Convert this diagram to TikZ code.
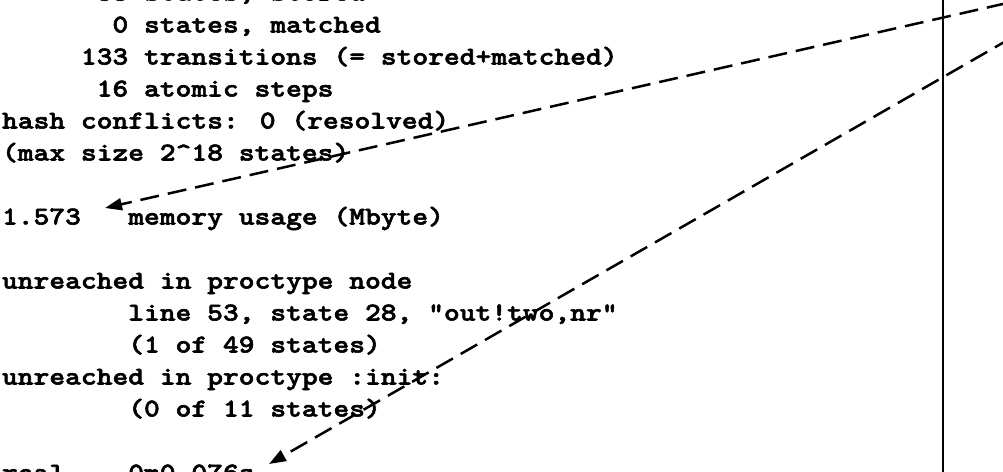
\documentclass[tikz,border=0pt]{standalone}
\usepackage{fontspec}
% typewriter face with slab serifs, widened to a 0.6em cell and thickened
\newfontfamily\courfont{lmmonolt10-bold.otf}[FakeStretch=1.17,FakeBold=2.2]
\usetikzlibrary{arrows.meta}

% character cell width of the mono font, and line pitch
\newcommand\cw{15.78}
\newcommand\lp{32}
% one line of program output: name, column, row, text
\newcommand\codeline[4]{\node[code] (#1) at ({2+#2*\cw},{0.5+#3*\lp}) {#4};}

\begin{document}
\begin{tikzpicture}[x=1pt,y=-1pt,
  code/.style={anchor=base west,inner sep=0pt,outer sep=0pt,
    font=\fontsize{25.7pt}{32pt}\selectfont\courfont},
  pointer/.style={line width=2.5pt,dash pattern=on 19pt off 9pt,
    -{Triangle[length=17pt,width=12pt]}},
  divider/.style={line width=2.5pt}]
\useasboundingbox (0,0) rectangle (1003,471);
\clip (0,0) rectangle (1003,471);

\codeline{stored}{6}{0}{33 states, stored}
\codeline{matched}{7}{1}{0 states, matched}
\codeline{trans}{5}{2}{133 transitions (= stored+matched)}
\codeline{atomic}{6}{3}{16 atomic steps}
\codeline{hash}{0}{4}{hash conflicts: 0 (resolved)}
\codeline{maxsize}{0}{5}{(max size 2\string^18 states)}
\codeline{memval}{0}{7}{1.573}
\codeline{memlbl}{8}{7}{memory usage (Mbyte)}
\codeline{unnode}{0}{9}{unreached in proctype node}
\codeline{line53}{8}{10}{line 53, state 28, "out!two,nr"}
\codeline{of49}{8}{11}{(1 of 49 states)}
\codeline{uninit}{0}{12}{unreached in proctype :init:}
\codeline{of11}{8}{13}{(0 of 11 states)}
\codeline{reallbl}{0}{15}{real}
\codeline{realval}{8}{15}{0m0.076s}

% vertical divider on the right
\coordinate (divtop) at (943,-5);
\coordinate (divbot) at (943,480);
\draw[divider] (divtop) -- (divbot);

% dashed pointers coming in from the upper right
\coordinate (src1) at (1060,-9);
\coordinate (tip1) at (105,208);
\coordinate (src2) at (1060,10);
\coordinate (tip2) at (269,464);
\draw[pointer] (src1) -- (tip1);
\draw[pointer] (src2) -- (tip2);
\end{tikzpicture}
\end{document}
